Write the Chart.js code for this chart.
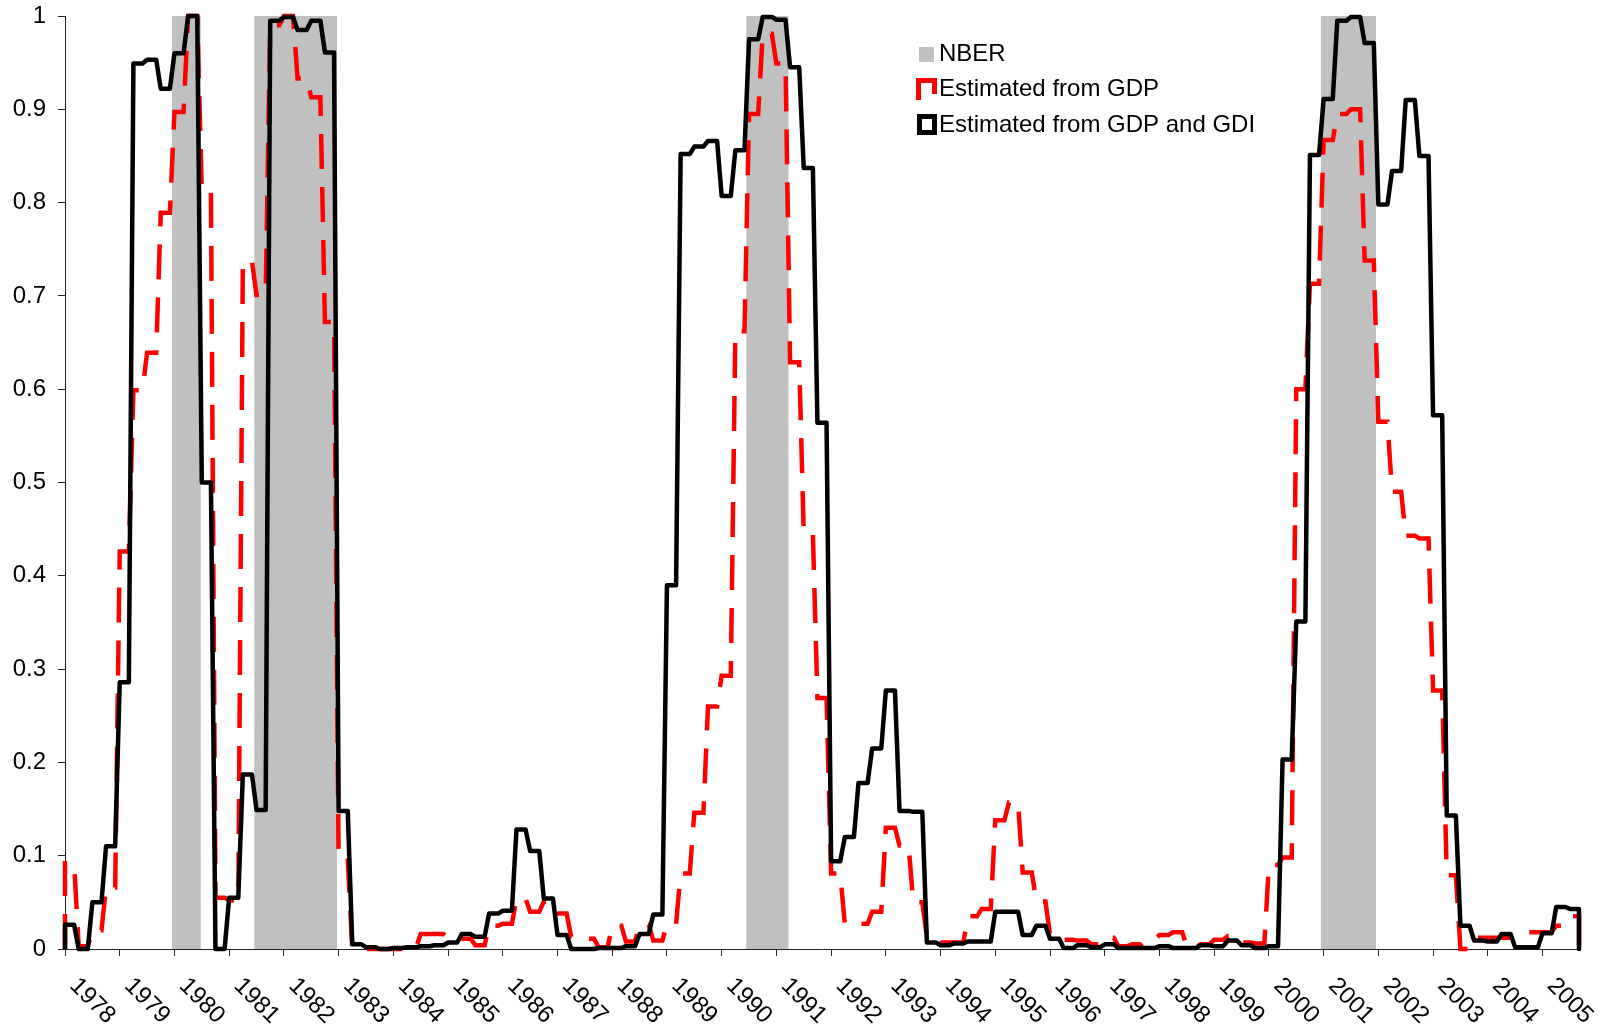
<!DOCTYPE html>
<html>
<head>
<meta charset="utf-8">
<script src="https://cdn.jsdelivr.net/npm/chart.js@4.4.1/dist/chart.umd.min.js"></script>
<style>
  html, body { margin: 0; padding: 0; background: #fff; }
  #wrap { width: 1613px; height: 1033px; }
</style>
</head>
<body>
<div id="wrap"><canvas id="recessionChart" width="1613" height="1033"></canvas></div>
<script>
const startYear = 1978;

const yearLabels = [
  "1978", "1979", "1980", "1981", "1982", "1983", "1984", "1985", "1986", "1987",
  "1988", "1989", "1990", "1991", "1992", "1993", "1994", "1995", "1996", "1997",
  "1998", "1999", "2000", "2001", "2002", "2003", "2004", "2005"
];

// quarterly probabilities, 1978Q1 .. 2005Q3
const gdpProb = [
  0.092, 0.003, 0.020, 0.066,  // 1978
  0.426, 0.599, 0.639, 0.789,  // 1979
  0.897, 1.000, 0.812, 0.055,  // 1980
  0.052, 0.737, 0.701, 0.990,  // 1981
  1.000, 0.933, 0.913, 0.672,  // 1982
  0.097, 0.000, 0.000, 0.000,  // 1983
  0.000, 0.002, 0.016, 0.016,  // 1984
  0.011, 0.011, 0.004, 0.025,  // 1985
  0.027, 0.054, 0.040, 0.051,  // 1986
  0.038, 0.013, 0.011, 0.002,  // 1987
  0.025, 0.008, 0.026, 0.009,  // 1988
  0.027, 0.081, 0.146, 0.260,  // 1989
  0.293, 0.662, 0.895, 0.981,  // 1990
  0.949, 0.629, 0.445, 0.269,  // 1991
  0.081, 0.027, 0.027, 0.040,  // 1992
  0.130, 0.111, 0.050, 0.013,  // 1993
  0.007, 0.007, 0.035, 0.043,  // 1994
  0.138, 0.157, 0.082, 0.051,  // 1995
  0.015, 0.010, 0.009, 0.005,  // 1996
  0.012, 0.003, 0.005, 0.010,  // 1997
  0.015, 0.018, 0.002, 0.005,  // 1998
  0.010, 0.014, 0.007, 0.006,  // 1999
  0.090, 0.098, 0.600, 0.713,  // 2000
  0.867, 0.895, 0.900, 0.738,  // 2001
  0.565, 0.490, 0.443, 0.440,  // 2002
  0.277, 0.079, 0.000, 0.012,  // 2003
  0.012, 0.012, 0.014, 0.018,  // 2004
  0.018, 0.025, 0.035          // 2005
];

const gdpGdiProb = [
  0.026, 0.000, 0.050, 0.110,  // 1978
  0.286, 0.949, 0.953, 0.922,  // 1979
  0.960, 1.000, 0.500, 0.000,  // 1980
  0.055, 0.187, 0.149, 0.995,  // 1981
  0.999, 0.985, 0.995, 0.961,  // 1982
  0.148, 0.005, 0.002, 0.000,  // 1983
  0.001, 0.002, 0.003, 0.004,  // 1984
  0.007, 0.016, 0.013, 0.038,  // 1985
  0.041, 0.128, 0.105, 0.054,  // 1986
  0.015, 0.000, 0.000, 0.001,  // 1987
  0.001, 0.003, 0.016, 0.037,  // 1988
  0.390, 0.852, 0.860, 0.866,  // 1989
  0.807, 0.856, 0.975, 0.999,  // 1990
  0.996, 0.945, 0.837, 0.564,  // 1991
  0.094, 0.120, 0.178, 0.215,  // 1992
  0.277, 0.148, 0.147, 0.007,  // 1993
  0.004, 0.006, 0.008, 0.008,  // 1994
  0.040, 0.040, 0.015, 0.025,  // 1995
  0.011, 0.001, 0.004, 0.002,  // 1996
  0.005, 0.001, 0.001, 0.001,  // 1997
  0.003, 0.001, 0.001, 0.004,  // 1998
  0.003, 0.009, 0.004, 0.001,  // 1999
  0.003, 0.203, 0.351, 0.851,  // 2000
  0.911, 0.995, 0.999, 0.971,  // 2001
  0.798, 0.834, 0.910, 0.850,  // 2002
  0.572, 0.143, 0.025, 0.009,  // 2003
  0.008, 0.016, 0.002, 0.002,  // 2004
  0.017, 0.045, 0.043          // 2005
];

// NBER recession shading, in decimal years
const nberStart = [1979.95, 1981.46, 1990.45, 2000.95];
const nberEnd   = [1980.48, 1982.97, 1991.22, 2001.96];

const lastMonth = gdpProb.length * 3 - 1;

// each quarter's value is held over its three months; the outline
// closes down to zero at both ends like the original area series
function toMonthly(quarterly) {
  const pts = [{ x: startYear, y: 0 }];
  quarterly.forEach((v, q) => {
    for (let k = 0; k < 3; k++) {
      pts.push({ x: startYear + (3 * q + k) / 12, y: v });
    }
  });
  pts.push({ x: startYear + lastMonth / 12, y: 0 });
  return pts;
}

function nberPoints() {
  const pts = [];
  nberStart.forEach((s, i) => {
    pts.push({ x: s, y: 0 }, { x: s, y: 1 }, { x: nberEnd[i], y: 1 }, { x: nberEnd[i], y: 0 });
  });
  return pts;
}

const FONT = '"Liberation Sans", Arial, sans-serif';

const yearLabelPlugin = {
  id: "yearLabels",
  afterDraw(chart) {
    const ctx = chart.ctx;
    const xs = chart.scales.x;
    ctx.save();
    ctx.font = "24px " + FONT;
    ctx.fillStyle = "#000";
    ctx.textAlign = "center";
    ctx.textBaseline = "middle";
    yearLabels.forEach((lab, i) => {
      const px = xs.getPixelForValue(startYear + i + 0.5);
      ctx.save();
      ctx.translate(px, chart.chartArea.bottom + 52);
      ctx.rotate(Math.PI / 4);
      ctx.fillText(lab, 0, 0);
      ctx.restore();
    });
    ctx.restore();
  }
};

const legendPlugin = {
  id: "boxLegend",
  afterDraw(chart) {
    const ctx = chart.ctx;
    ctx.save();
    ctx.font = "24px " + FONT;
    ctx.textAlign = "left";
    ctx.textBaseline = "middle";

    // NBER
    ctx.fillStyle = "#C0C0C0";
    ctx.fillRect(919, 47, 15, 15);
    ctx.fillStyle = "#000";
    ctx.fillText("NBER", 939, 54);

    // GDP (dashed red)
    ctx.strokeStyle = "#FF0000";
    ctx.lineWidth = 5;
    ctx.lineCap = "butt";
    ctx.beginPath();
    ctx.moveTo(918.5, 100);
    ctx.lineTo(918.5, 80.5);
    ctx.lineTo(934.5, 80.5);
    ctx.lineTo(934.5, 94);
    ctx.stroke();
    ctx.fillText("Estimated from GDP", 939, 89);

    // GDP and GDI (solid black)
    ctx.strokeStyle = "#000";
    ctx.strokeRect(919.5, 116.5, 15, 16);
    ctx.fillText("Estimated from GDP and GDI", 939, 125);
    ctx.restore();
  }
};

const ctx = document.getElementById("recessionChart").getContext("2d");
const chart = new Chart(ctx, {
  type: "line",
  data: {
    datasets: [
      {
        label: "Estimated from GDP and GDI",
        data: toMonthly(gdpGdiProb),
        borderColor: "#000000",
        borderWidth: 4.5,
        borderJoinStyle: "round",
        pointRadius: 0,
        tension: 0,
        fill: false,
        clip: 6
      },
      {
        label: "Estimated from GDP",
        data: toMonthly(gdpProb),
        borderColor: "#FF0000",
        borderWidth: 4.5,
        borderDash: [35, 18],
        borderCapStyle: "butt",
        pointRadius: 0,
        tension: 0,
        fill: false,
        clip: 6
      },
      {
        label: "NBER",
        data: nberPoints(),
        borderWidth: 0,
        borderColor: "rgba(0,0,0,0)",
        backgroundColor: "#C0C0C0",
        pointRadius: 0,
        tension: 0,
        fill: "origin"
      }
    ]
  },
  options: {
    responsive: false,
    animation: false,
    devicePixelRatio: 1,
    layout: { padding: { top: 16, right: 34, left: 0, bottom: 0 } },
    plugins: {
      legend: { display: false },
      tooltip: { enabled: false }
    },
    scales: {
      x: {
        type: "linear",
        min: startYear,
        max: startYear + lastMonth / 12,
        afterFit: s => { s.height = 84; s.paddingLeft = 0; s.paddingRight = 0; },
        border: { display: true, color: "#222", width: 1 },
        grid: { display: true, drawOnChartArea: false, drawTicks: true, tickLength: 7, color: "#222" },
        ticks: { stepSize: 1, includeBounds: false, display: false }
      },
      y: {
        min: 0,
        max: 1,
        afterFit: s => { s.width = 65; s.paddingTop = 0; s.paddingBottom = 0; },
        border: { display: true, color: "#222", width: 1 },
        grid: { display: true, drawOnChartArea: false, drawTicks: true, tickLength: 7, color: "#222" },
        ticks: {
          stepSize: 0.1,
          padding: 12,
          color: "#000",
          font: { family: FONT, size: 24 },
          callback: v => String(Number(v.toFixed(1)))
        }
      }
    }
  },
  plugins: [yearLabelPlugin, legendPlugin]
});
</script>
</body>
</html>
